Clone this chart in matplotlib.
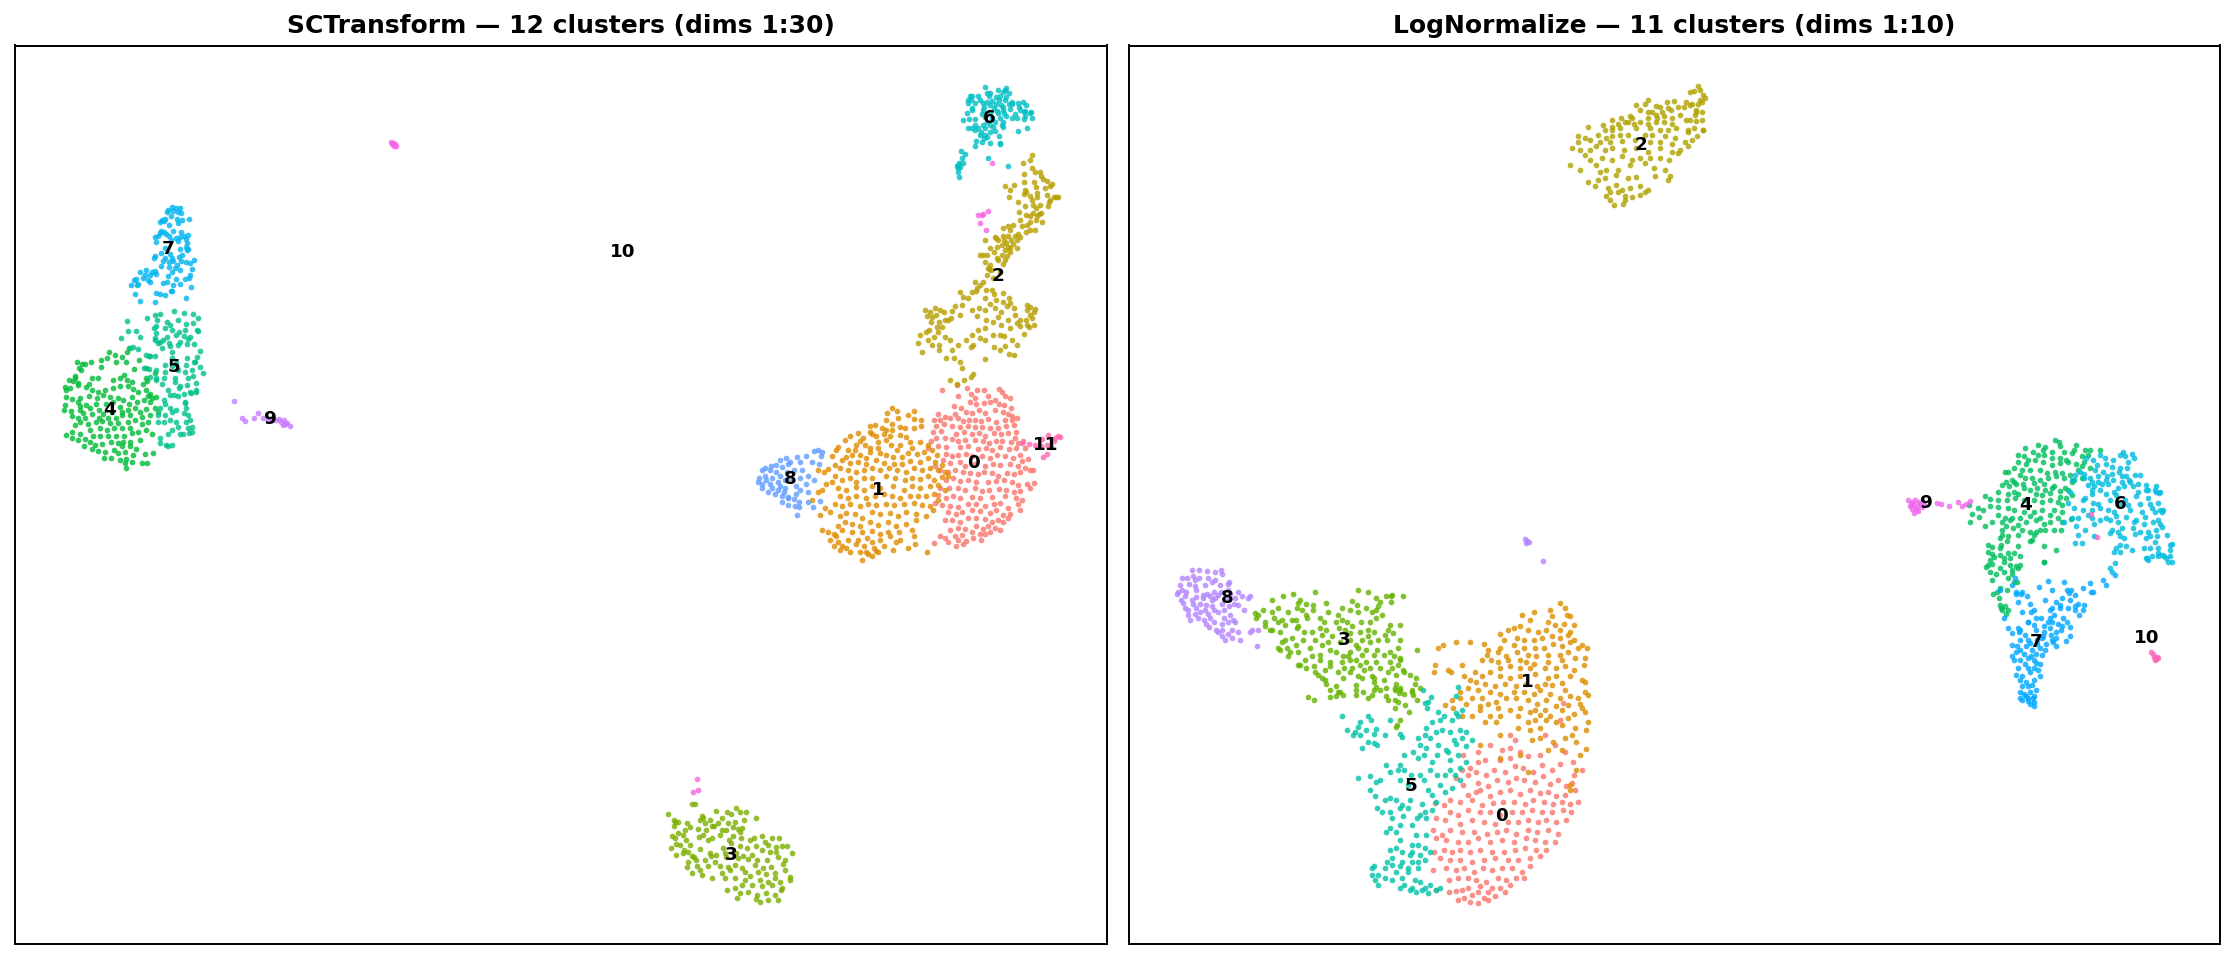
import matplotlib
matplotlib.use("Agg")
import matplotlib.pyplot as plt

# points, one list per cluster (x, y in picture units, y runs downwards)
sct_0 = [(957,385),(942,390),(977,390),(967,388),(984,390),(999,389),(1002,392),(1005,396),(958,396),(971,394),(975,398),(988,396),(995,400),(1010,398),(970,402),(976,404),(984,403),(990,402),(999,404),(1004,405),(1011,408),(954,406),(961,408),(955,414),(966,412),(972,413),(979,410),(985,413),(995,410),(1003,412),(1008,414),(1012,416),(938,414),(945,417),(934,420),(940,420),(950,418),(958,418),(963,421),(969,420),(975,420),(981,421),(988,419),(996,422),(1005,420),(1012,420),(1017,418),(936,426),(944,424),(952,426),(960,427),(968,426),(975,427),(982,427),(990,428),(998,428),(1006,426),(1014,425),(933,432),(941,431),(956,434),(964,432),(972,434),(979,433),(985,436),(994,433),(1001,434),(1008,433),(1016,432),(1015,438),(936,438),(945,438),(952,439),(958,441),(965,440),(975,440),(983,441),(989,443),(996,441),(1002,441),(1011,442),(1018,443),(1023,441),(931,441),(928,448),(938,446),(946,447),(960,447),(968,446),(978,449),(986,448),(992,450),(1000,447),(1009,449),(1016,448),(1025,448),(1020,455),(946,454),(952,456),(958,455),(966,454),(972,456),(982,456),(990,458),(997,455),(1005,456),(1013,458),(1022,461),(1028,459),(1033,470),(943,460),(950,463),(960,462),(965,466),(975,464),(985,466),(993,464),(1000,465),(1010,464),(1018,466),(1025,468),(935,466),(940,470),(948,472),(955,470),(963,472),(970,473),(978,474),(984,472),(992,473),(998,476),(1007,473),(1014,474),(1020,472),(1030,470),(946,480),(953,478),(960,481),(968,480),(976,482),(988,482),(996,481),(1004,480),(1012,482),(1018,485),(1027,484),(1034,483),(940,488),(949,488),(958,488),(965,490),(975,488),(982,491),(989,490),(999,489),(1006,490),(1014,492),(1020,491),(1030,488),(938,495),(946,498),(953,496),(960,498),(972,497),(980,498),(992,497),(1005,496),(1016,498),(1022,500),(935,503),(942,505),(950,506),(958,507),(968,504),(976,504),(985,506),(994,504),(1000,503),(1008,508),(1018,504),(948,512),(956,514),(962,512),(972,510),(980,511),(990,513),(996,510),(1003,515),(1010,514),(1020,510),(945,520),(952,520),(960,522),(968,518),(976,518),(985,519),(992,522),(998,520),(1008,518),(958,528),(965,529),(976,526),(983,529),(988,526),(995,528),(1003,522),(950,530),(945,538),(955,536),(962,535),(972,532),(980,534),(990,532),(1000,530),(934,543),(940,536),(948,542),(958,540),(966,541),(973,538),(981,540),(985,534),(956,546),(963,544)]
sct_1 = [(892,408),(897,411),(887,413),(898,418),(886,420),(892,424),(908,415),(914,411),(914,419),(921,420),(886,430),(892,430),(875,425),(882,428),(870,426),(900,427),(870,432),(876,436),(884,434),(890,436),(900,435),(905,428),(914,428),(921,426),(858,433),(863,438),(872,434),(878,442),(886,440),(900,445),(906,437),(910,442),(860,441),(865,445),(856,445),(850,436),(845,440),(838,447),(848,450),(855,450),(870,448),(878,448),(891,445),(897,450),(912,448),(920,442),(928,445),(846,457),(852,455),(860,455),(866,458),(870,452),(880,453),(886,455),(893,457),(902,457),(908,453),(917,454),(924,452),(932,450),(937,455),(836,450),(832,456),(842,460),(850,463),(858,462),(866,464),(876,460),(884,463),(894,464),(902,464),(910,461),(920,462),(928,458),(935,462),(942,465),(835,465),(840,468),(848,470),(856,472),(864,470),(872,468),(880,470),(889,468),(897,470),(906,472),(914,468),(922,470),(930,468),(938,470),(945,472),(828,469),(818,470),(824,472),(835,476),(842,480),(850,478),(856,482),(864,478),(872,478),(886,476),(895,478),(905,480),(912,478),(920,479),(928,476),(934,480),(942,477),(948,476),(832,482),(826,484),(838,488),(846,490),(856,487),(864,490),(872,486),(880,488),(893,486),(904,490),(912,486),(920,488),(930,486),(938,485),(822,490),(818,492),(812,500),(840,496),(848,498),(856,496),(866,498),(875,496),(884,494),(892,496),(900,498),(910,496),(918,496),(926,496),(934,494),(945,490),(825,508),(835,504),(842,506),(850,504),(860,506),(868,504),(876,505),(886,504),(894,505),(904,504),(914,503),(922,505),(930,506),(938,500),(820,515),(830,512),(840,516),(846,513),(855,514),(862,518),(872,512),(880,514),(890,513),(898,516),(906,512),(916,514),(926,516),(933,510),(845,522),(852,524),(860,526),(870,522),(878,525),(888,522),(896,526),(906,524),(916,520),(822,530),(828,532),(834,534),(838,526),(842,530),(852,532),(862,532),(872,531),(880,534),(888,532),(899,532),(912,530),(830,540),(836,536),(848,540),(858,540),(867,538),(872,542),(880,540),(890,536),(900,540),(834,546),(838,542),(842,546),(846,548),(856,544),(864,546),(874,548),(884,546),(896,542),(914,536),(840,550),(850,552),(860,552),(868,554),(878,552),(893,550),(908,548),(927,552),(915,544),(862,560),(872,556),(876,551),(866,552)]
sct_2 = [(1032,155),(1030,160),(1023,163),(1032,168),(1035,172),(1040,172),(1041,176),(1043,179),(1047,181),(1024,174),(1024,182),(1025,190),(1034,182),(1036,187),(1052,184),(1050,186),(1037,193),(1037,197),(1045,188),(1047,195),(1050,200),(1054,197),(1056,197),(1049,202),(1005,186),(1014,185),(1010,190),(1009,197),(1024,194),(1026,192),(1030,196),(1032,200),(1018,202),(1025,206),(1033,205),(1036,208),(1040,205),(1048,206),(1058,197),(1033,213),(1026,215),(1030,216),(1037,216),(1041,213),(1019,212),(1036,220),(1030,222),(1027,225),(1022,226),(1042,222),(1039,214),(1030,230),(1026,232),(1035,230),(1020,220),(1010,230),(1013,225),(1008,226),(1015,236),(1011,240),(1008,236),(1020,237),(1018,234),(1008,247),(1013,244),(1017,240),(1003,228),(1006,243),(996,238),(998,240),(1003,236),(1005,250),(1002,255),(1017,248),(1010,252),(995,237),(983,255),(990,248),(997,247),(1002,245),(1004,240),(980,255),(985,240),(1010,248),(1005,260),(1007,256),(1003,264),(997,258),(990,265),(998,260),(991,270),(1000,272),(994,252),(987,255),(985,262),(993,278),(987,275),(989,269),(975,282),(983,282),(992,290),(986,290),(988,268),(980,285),(977,288),(960,292),(976,291),(985,298),(994,294),(1003,293),(996,300),(1003,302),(1009,298),(1010,303),(1014,308),(1015,315),(1020,320),(1007,306),(1001,312),(998,317),(995,308),(990,304),(985,310),(979,308),(972,292),(968,298),(963,297),(962,305),(955,306),(952,311),(944,312),(951,318),(960,315),(972,310),(977,316),(986,320),(993,322),(1001,325),(1008,320),(1017,323),(1027,305),(1030,307),(1035,309),(1027,310),(1030,315),(1034,312),(1026,320),(1032,318),(1034,325),(1029,327),(1027,325),(935,308),(940,310),(945,320),(930,312),(936,315),(925,310),(927,316),(932,317),(939,322),(931,322),(937,327),(942,327),(948,320),(938,332),(929,330),(926,332),(934,337),(920,335),(918,343),(928,340),(932,345),(939,345),(945,337),(950,340),(958,345),(966,340),(971,347),(972,335),(978,330),(985,328),(993,335),(1004,336),(1010,328),(1020,326),(1024,334),(1012,340),(1017,345),(1000,335),(980,338),(973,345),(985,340),(1005,346),(994,347),(1000,350),(1014,355),(1009,354),(952,350),(939,350),(922,352),(946,358),(954,358),(960,362),(962,368),(985,359),(964,380),(971,377),(973,374),(950,380),(957,384)]
sct_3 = [(692,804),(695,804),(668,814),(702,816),(716,811),(727,812),(736,808),(731,814),(740,812),(746,812),(674,820),(678,822),(700,820),(703,818),(710,820),(718,823),(722,818),(728,823),(756,818),(675,822),(687,823),(685,830),(705,823),(714,826),(722,830),(735,822),(738,829),(742,828),(678,833),(674,826),(690,827),(683,835),(698,829),(706,830),(712,826),(726,830),(733,827),(744,820),(672,836),(675,838),(686,840),(690,845),(699,837),(703,835),(712,838),(720,835),(733,836),(740,832),(680,845),(676,844),(684,850),(688,852),(708,840),(729,840),(731,843),(741,838),(750,840),(754,838),(762,836),(765,842),(772,838),(779,838),(676,855),(671,848),(683,853),(692,856),(700,849),(710,853),(723,848),(740,846),(747,848),(756,846),(768,845),(776,847),(782,846),(787,846),(694,857),(696,860),(711,856),(716,855),(725,853),(736,853),(743,856),(752,855),(762,850),(770,852),(776,852),(792,853),(688,862),(687,867),(697,866),(705,860),(715,862),(726,857),(738,858),(748,859),(757,860),(767,860),(778,857),(785,860),(700,870),(708,866),(720,866),(728,867),(735,865),(742,868),(755,865),(763,868),(771,867),(783,864),(692,873),(702,875),(712,878),(722,873),(730,870),(745,872),(750,876),(758,872),(766,874),(775,873),(785,870),(790,877),(725,878),(735,878),(745,880),(760,880),(768,882),(775,878),(780,882),(735,888),(727,890),(742,885),(752,885),(762,886),(772,885),(782,888),(790,880),(740,893),(748,892),(757,895),(766,893),(775,895),(778,900),(756,899),(760,902),(768,900),(737,898),(781,890)]
sct_4 = [(77,362),(82,364),(85,364),(91,362),(101,360),(107,358),(109,352),(115,355),(122,357),(127,352),(129,348),(79,368),(81,370),(75,376),(101,367),(116,362),(126,362),(139,360),(146,368),(134,369),(69,380),(73,381),(75,378),(78,383),(89,384),(92,378),(98,378),(113,380),(120,378),(124,375),(127,380),(132,382),(146,378),(155,373),(143,384),(147,381),(65,387),(66,390),(70,388),(78,385),(86,387),(92,390),(98,392),(105,390),(113,388),(120,386),(128,386),(133,389),(146,390),(150,394),(66,397),(72,399),(80,398),(89,396),(97,398),(103,395),(110,397),(118,398),(123,400),(132,397),(138,392),(148,396),(152,398),(65,405),(78,402),(80,406),(86,405),(96,404),(106,404),(113,402),(120,407),(129,404),(137,402),(144,400),(150,402),(156,397),(64,410),(71,411),(80,410),(83,413),(90,408),(99,410),(103,414),(112,412),(122,412),(128,410),(135,408),(140,412),(146,409),(155,408),(72,416),(78,418),(85,418),(92,414),(99,418),(108,418),(116,418),(122,415),(130,415),(142,417),(150,415),(158,412),(75,425),(80,422),(88,424),(96,422),(102,421),(110,423),(118,423),(128,422),(135,420),(142,424),(148,422),(66,435),(72,432),(80,434),(90,430),(100,428),(107,430),(114,428),(122,428),(130,428),(138,432),(146,430),(152,434),(72,438),(78,440),(85,439),(93,436),(100,436),(108,436),(116,436),(124,436),(132,433),(84,446),(90,442),(95,445),(102,444),(111,442),(118,443),(123,442),(130,442),(140,440),(92,449),(98,451),(105,452),(114,450),(122,446),(130,446),(136,449),(104,458),(111,458),(118,453),(125,452),(133,455),(145,454),(153,453),(120,460),(125,463),(132,462),(126,468),(142,463),(147,463),(126,459)]
sct_5 = [(127,321),(128,331),(121,338),(136,331),(140,337),(130,348),(147,318),(155,315),(160,314),(174,311),(184,313),(193,314),(198,318),(156,326),(157,320),(167,322),(170,325),(178,320),(186,324),(193,323),(197,330),(154,328),(156,333),(165,328),(172,330),(179,332),(185,330),(190,337),(198,331),(155,338),(163,340),(167,337),(176,335),(184,336),(188,339),(155,340),(160,342),(169,343),(178,345),(187,344),(194,344),(133,347),(138,349),(146,355),(150,356),(158,343),(162,348),(170,346),(180,342),(200,351),(149,356),(155,356),(172,352),(172,358),(187,358),(197,357),(194,362),(165,365),(172,366),(176,363),(186,365),(195,362),(144,368),(149,369),(156,370),(165,372),(178,370),(185,372),(192,370),(200,367),(203,373),(150,377),(156,378),(156,380),(164,378),(175,378),(188,378),(193,376),(196,383),(162,384),(168,390),(175,382),(180,386),(187,385),(190,392),(196,392),(170,395),(179,388),(184,394),(164,400),(174,395),(178,396),(185,402),(196,390),(160,408),(165,404),(170,408),(176,410),(185,403),(186,408),(191,393),(184,413),(158,415),(165,415),(172,412),(188,415),(190,420),(164,422),(170,420),(176,422),(178,427),(186,422),(188,428),(192,427),(158,422),(168,434),(172,430),(180,434),(183,434),(189,433),(160,438),(166,445),(168,446),(172,445),(160,443),(192,432)]
sct_6 = [(985,87),(1006,88),(1005,90),(998,90),(1003,92),(1009,93),(987,93),(990,93),(970,96),(972,96),(978,96),(989,96),(996,97),(1000,96),(1006,97),(968,100),(971,100),(980,100),(987,102),(992,101),(999,100),(1005,100),(1012,102),(968,103),(975,103),(983,103),(990,105),(996,104),(1001,105),(1009,104),(1018,103),(1023,102),(972,108),(984,107),(994,108),(1003,107),(1012,104),(1019,107),(1026,105),(972,110),(983,110),(997,111),(1003,110),(1010,109),(1020,110),(1025,111),(1031,112),(967,113),(982,114),(990,112),(998,113),(1004,113),(1015,114),(1024,112),(1030,113),(963,120),(969,119),(975,119),(985,117),(992,118),(1000,118),(1006,116),(1012,118),(1017,118),(1025,116),(1024,119),(1032,118),(987,122),(995,122),(1003,122),(975,125),(983,125),(990,125),(1002,125),(968,128),(972,128),(978,128),(985,128),(993,127),(995,131),(1003,127),(975,130),(981,132),(985,135),(990,132),(1018,131),(1027,128),(980,135),(984,138),(987,137),(999,136),(1000,143),(976,141),(975,146),(982,142),(990,143),(1000,144),(961,151),(965,154),(962,158),(959,163),(958,165),(960,167),(957,166),(958,168),(963,163),(958,172),(959,177),(988,158),(1008,166)]
sct_7 = [(172,207),(176,208),(180,208),(168,210),(173,211),(178,212),(181,213),(167,212),(171,216),(162,220),(164,221),(160,222),(165,219),(177,219),(182,220),(189,219),(178,223),(169,225),(161,231),(164,232),(160,233),(166,234),(173,231),(181,232),(184,236),(188,235),(155,237),(158,236),(169,236),(176,238),(180,237),(186,239),(156,242),(171,240),(178,241),(187,243),(186,247),(188,249),(180,249),(165,248),(161,253),(155,256),(154,258),(170,254),(182,255),(187,250),(165,258),(172,258),(179,257),(181,261),(163,261),(169,262),(173,261),(186,262),(194,260),(190,263),(192,269),(177,265),(169,267),(146,270),(140,272),(152,272),(155,271),(145,275),(143,278),(150,275),(156,274),(161,266),(175,268),(180,270),(172,272),(168,276),(134,280),(136,279),(148,280),(150,282),(176,279),(189,278),(190,275),(185,279),(163,283),(131,285),(138,284),(137,285),(173,285),(167,282),(180,284),(191,287),(135,294),(156,293),(160,294),(165,295),(172,291),(186,298),(140,301),(155,302),(171,291)]
sct_8 = [(762,470),(765,468),(771,466),(776,465),(780,460),(786,458),(790,462),(797,457),(806,456),(814,451),(818,450),(822,452),(821,456),(765,476),(770,470),(776,472),(782,467),(788,464),(800,462),(812,462),(819,464),(759,478),(766,480),(772,478),(780,476),(787,472),(794,470),(802,470),(758,482),(762,484),(770,484),(778,482),(785,480),(790,478),(800,478),(808,476),(814,480),(762,488),(772,488),(780,486),(785,488),(796,486),(806,484),(768,492),(778,490),(784,492),(800,490),(808,492),(775,494),(782,496),(788,498),(796,494),(782,502),(788,497),(794,499),(799,502),(808,502),(820,501),(788,505),(795,506),(799,507),(813,507),(797,515)]
sct_9 = [(234,401),(242,418),(245,421),(254,418),(258,413),(263,418),(268,419),(272,420),(276,420),(279,419),(281,422),(284,420),(285,424),(287,423),(290,426),(283,425)]
sct_10 = [(391,142),(393,143),(395,144),(392,144),(394,146),(396,146),(992,163),(982,215),(988,211),(978,215),(983,214),(980,223),(986,230),(697,779),(693,792),(698,790)]
sct_11 = [(1022,443),(1029,444),(1035,445),(1041,446),(1048,435),(1055,438),(1058,436),(1054,441),(1047,445),(1042,439),(1043,457),(1047,454),(1060,437),(1051,447)]

log_0 = [(1563,703),(1560,720),(1545,735),(1510,735),(1490,745),(1502,750),(1510,748),(1515,740),(1520,752),(1478,752),(1485,760),(1463,755),(1470,768),(1478,762),(1500,760),(1510,758),(1528,756),(1540,755),(1555,745),(1565,752),(1573,762),(1462,770),(1468,775),(1476,772),(1486,775),(1494,770),(1505,772),(1515,766),(1523,768),(1533,772),(1542,765),(1552,770),(1560,764),(1574,775),(1582,770),(1456,778),(1463,785),(1478,783),(1488,786),(1497,780),(1508,782),(1516,778),(1524,780),(1535,782),(1543,776),(1550,784),(1558,780),(1566,786),(1572,783),(1468,795),(1476,792),(1480,790),(1490,796),(1500,792),(1510,790),(1520,794),(1530,790),(1540,793),(1548,792),(1556,796),(1565,795),(1575,790),(1450,800),(1460,802),(1472,800),(1482,805),(1493,803),(1503,802),(1514,802),(1525,804),(1533,800),(1544,802),(1553,804),(1562,802),(1570,804),(1578,802),(1444,805),(1435,803),(1450,812),(1458,815),(1468,810),(1480,812),(1490,812),(1500,815),(1512,812),(1522,812),(1532,810),(1542,812),(1552,812),(1563,810),(1571,812),(1436,818),(1445,820),(1460,824),(1472,820),(1484,822),(1495,824),(1508,822),(1518,822),(1528,820),(1538,822),(1546,820),(1556,822),(1566,820),(1433,830),(1442,835),(1450,830),(1462,832),(1474,832),(1487,834),(1497,832),(1506,830),(1516,834),(1528,830),(1537,832),(1548,830),(1558,834),(1436,838),(1446,840),(1458,842),(1468,842),(1478,838),(1490,842),(1502,840),(1514,842),(1526,838),(1535,840),(1545,842),(1555,842),(1434,852),(1444,850),(1452,852),(1460,850),(1470,852),(1480,850),(1492,852),(1504,852),(1515,850),(1525,848),(1536,850),(1546,850),(1440,858),(1450,860),(1460,860),(1472,862),(1484,860),(1495,858),(1508,860),(1518,860),(1530,858),(1540,856),(1433,870),(1446,868),(1456,870),(1464,868),(1474,872),(1483,868),(1492,870),(1502,868),(1512,868),(1522,872),(1530,866),(1449,880),(1458,878),(1468,878),(1476,880),(1486,882),(1498,878),(1506,880),(1516,878),(1524,878),(1436,890),(1449,892),(1462,890),(1468,888),(1480,886),(1492,888),(1500,888),(1510,885),(1458,900),(1472,895),(1478,892),(1488,892),(1495,896),(1505,892),(1456,891),(1470,902),(1464,898),(1488,900),(1478,903),(1484,898)]
log_1 = [(1560,603),(1565,608),(1567,615),(1550,610),(1552,616),(1570,616),(1534,612),(1522,615),(1530,620),(1548,622),(1555,625),(1564,624),(1574,625),(1514,628),(1508,630),(1520,626),(1528,630),(1538,632),(1546,630),(1560,630),(1570,632),(1500,634),(1504,640),(1517,638),(1524,640),(1534,640),(1542,638),(1552,636),(1560,638),(1568,635),(1574,640),(1443,645),(1456,642),(1470,642),(1484,644),(1500,648),(1514,645),(1524,648),(1535,648),(1544,648),(1553,644),(1562,646),(1570,642),(1582,645),(1438,648),(1488,650),(1487,655),(1498,652),(1506,656),(1517,652),(1528,655),(1536,656),(1548,655),(1560,655),(1568,652),(1578,648),(1587,648),(1482,660),(1491,660),(1498,662),(1508,660),(1520,660),(1526,662),(1534,664),(1548,662),(1562,660),(1575,658),(1585,658),(1435,665),(1448,670),(1451,672),(1462,665),(1500,668),(1510,666),(1520,668),(1530,668),(1545,668),(1556,668),(1565,666),(1574,670),(1584,665),(1434,672),(1464,676),(1475,672),(1482,676),(1490,672),(1500,676),(1510,678),(1520,676),(1535,674),(1548,678),(1556,676),(1570,676),(1582,680),(1470,680),(1476,682),(1485,684),(1495,686),(1505,684),(1516,686),(1526,684),(1537,686),(1545,684),(1552,685),(1562,683),(1585,682),(1460,692),(1468,688),(1478,690),(1490,692),(1500,694),(1514,692),(1524,692),(1534,694),(1540,690),(1550,694),(1565,690),(1585,692),(1588,695),(1452,700),(1460,698),(1472,698),(1482,698),(1496,702),(1506,698),(1516,698),(1528,700),(1537,704),(1546,700),(1560,698),(1570,696),(1578,698),(1445,705),(1453,708),(1466,704),(1480,706),(1488,704),(1498,708),(1510,710),(1520,708),(1535,710),(1545,710),(1556,706),(1568,705),(1580,704),(1462,716),(1472,716),(1480,710),(1490,716),(1500,716),(1518,716),(1530,712),(1540,715),(1550,716),(1562,710),(1574,714),(1582,708),(1485,722),(1496,722),(1528,722),(1535,720),(1546,720),(1556,722),(1568,718),(1585,712),(1518,728),(1530,730),(1540,728),(1562,725),(1575,728),(1588,722),(1500,735),(1540,738),(1553,742),(1565,738),(1572,735),(1586,730),(1532,740),(1480,745),(1500,758),(1548,750),(1562,750),(1576,742),(1580,755),(1586,749),(1576,770),(1570,785),(1570,790),(1520,755),(1528,772)]
log_2 = [(1698,86),(1700,90),(1690,92),(1694,91),(1703,95),(1705,98),(1700,100),(1702,102),(1698,104),(1686,102),(1692,104),(1645,104),(1648,100),(1636,105),(1667,102),(1674,101),(1684,107),(1690,105),(1656,106),(1652,112),(1660,107),(1668,108),(1678,107),(1696,110),(1702,112),(1696,112),(1648,112),(1640,110),(1656,115),(1662,112),(1671,110),(1695,115),(1630,116),(1648,118),(1657,118),(1664,116),(1672,118),(1680,115),(1686,120),(1702,120),(1621,118),(1612,120),(1625,122),(1632,118),(1612,127),(1618,124),(1628,122),(1634,124),(1640,122),(1648,124),(1656,122),(1664,122),(1672,124),(1690,120),(1696,121),(1588,127),(1603,125),(1605,130),(1612,130),(1620,128),(1636,128),(1650,128),(1660,130),(1668,130),(1676,128),(1688,130),(1694,128),(1703,130),(1578,136),(1585,138),(1598,135),(1606,138),(1612,136),(1620,135),(1628,135),(1645,135),(1652,135),(1665,136),(1675,138),(1688,132),(1697,136),(1703,130),(1572,148),(1578,142),(1590,140),(1600,142),(1610,142),(1622,141),(1635,140),(1650,142),(1660,142),(1672,144),(1685,142),(1692,140),(1580,150),(1585,155),(1590,150),(1596,146),(1605,150),(1612,148),(1624,150),(1636,148),(1648,152),(1660,148),(1672,152),(1680,150),(1688,146),(1570,165),(1590,160),(1596,165),(1602,158),(1612,160),(1622,156),(1632,160),(1640,158),(1650,158),(1660,158),(1669,160),(1678,153),(1580,170),(1600,172),(1606,170),(1618,170),(1630,165),(1645,163),(1654,168),(1665,170),(1670,176),(1588,182),(1598,180),(1605,178),(1616,175),(1628,178),(1636,177),(1655,176),(1668,180),(1595,186),(1608,188),(1616,185),(1622,190),(1630,188),(1640,186),(1648,190),(1606,196),(1610,192),(1618,192),(1625,196),(1632,197),(1640,195),(1645,192),(1610,200),(1625,200),(1614,205),(1623,204)]
log_3 = [(1255,613),(1263,610),(1272,600),(1283,596),(1293,594),(1300,600),(1315,592),(1298,603),(1306,604),(1313,605),(1326,603),(1342,608),(1352,601),(1357,605),(1368,592),(1358,590),(1376,598),(1380,602),(1386,596),(1378,606),(1392,595),(1391,602),(1391,596),(1403,596),(1258,615),(1272,612),(1278,608),(1288,612),(1297,608),(1302,610),(1306,615),(1313,610),(1328,612),(1338,615),(1342,620),(1350,610),(1358,612),(1366,608),(1372,612),(1376,610),(1382,615),(1256,618),(1265,622),(1274,618),(1282,620),(1292,620),(1296,620),(1307,618),(1320,618),(1336,622),(1347,622),(1352,626),(1361,622),(1370,622),(1376,618),(1265,626),(1272,630),(1278,622),(1285,625),(1298,626),(1320,628),(1324,622),(1339,628),(1345,630),(1350,633),(1360,632),(1368,630),(1390,625),(1388,630),(1400,625),(1270,630),(1280,632),(1297,628),(1304,632),(1312,632),(1326,630),(1332,636),(1350,640),(1362,640),(1368,636),(1374,632),(1385,635),(1393,633),(1282,642),(1285,640),(1292,638),(1296,645),(1303,640),(1315,640),(1322,635),(1328,642),(1340,642),(1356,645),(1370,642),(1378,640),(1387,640),(1400,640),(1280,650),(1287,648),(1310,648),(1322,645),(1330,650),(1336,652),(1350,652),(1358,648),(1366,650),(1377,650),(1390,652),(1398,648),(1278,648),(1290,652),(1298,652),(1320,655),(1343,656),(1350,660),(1362,655),(1374,655),(1384,655),(1394,656),(1400,660),(1417,650),(1288,656),(1305,660),(1312,656),(1320,660),(1342,662),(1348,656),(1356,660),(1366,662),(1376,662),(1390,662),(1398,665),(1300,665),(1306,668),(1314,666),(1330,662),(1344,668),(1352,668),(1360,665),(1370,668),(1380,668),(1392,668),(1400,658),(1298,665),(1315,672),(1325,670),(1330,666),(1350,672),(1358,676),(1364,670),(1372,676),(1388,672),(1396,675),(1403,670),(1318,675),(1338,672),(1343,678),(1362,678),(1374,678),(1384,680),(1396,684),(1404,672),(1410,675),(1416,678),(1325,680),(1322,678),(1326,684),(1380,690),(1374,682),(1386,688),(1395,688),(1415,684),(1400,690),(1336,686),(1338,692),(1356,685),(1356,690),(1374,690),(1388,700),(1400,688),(1412,692),(1420,688),(1330,690),(1356,695),(1363,692),(1386,696),(1395,690),(1404,694),(1412,690),(1314,700),(1336,696),(1340,692),(1372,695),(1376,687),(1399,693),(1400,720),(1395,700),(1413,695),(1308,697),(1330,697),(1343,695),(1368,698),(1395,708),(1405,705),(1398,702),(1409,712),(1417,700),(1397,725),(1396,727)]
log_4 = [(2055,440),(2059,442),(2076,445),(2038,445),(2045,447),(2060,446),(2074,450),(2100,450),(2025,448),(2033,452),(2043,450),(2052,452),(2064,452),(2072,453),(2085,450),(2090,450),(2018,455),(2024,456),(2028,460),(2038,455),(2044,455),(2052,458),(2060,458),(2066,460),(2082,456),(2088,455),(2018,462),(2026,464),(2035,460),(2043,462),(2052,465),(2060,463),(2068,462),(2076,464),(2082,466),(2084,462),(2014,468),(2008,472),(2022,470),(2030,470),(2040,470),(2047,473),(2055,472),(2062,473),(2070,475),(2078,470),(2090,468),(2005,472),(2012,480),(2020,475),(2025,478),(2032,478),(2040,480),(2048,478),(2056,476),(2064,478),(2074,480),(2082,478),(2006,482),(2014,482),(2023,484),(2034,483),(2044,484),(2054,486),(2065,488),(2072,482),(2002,485),(2009,486),(2016,484),(2030,490),(2037,488),(2045,490),(2052,488),(2060,491),(2068,490),(1998,492),(2008,494),(2014,492),(2018,494),(2024,488),(2036,494),(2042,495),(2050,493),(2060,497),(2066,498),(2072,495),(1985,496),(1990,499),(1998,500),(2007,500),(2015,498),(2024,500),(2034,500),(2042,502),(2050,500),(2058,502),(2062,505),(1969,505),(1978,508),(1983,510),(1990,506),(1998,507),(2008,508),(2014,510),(2024,512),(2034,512),(2042,510),(2054,510),(2062,512),(1972,514),(1979,517),(1998,515),(2005,518),(2012,518),(2020,518),(2030,516),(2040,518),(2050,515),(2058,518),(2071,519),(1970,522),(1992,522),(2002,522),(2010,520),(2018,525),(2026,522),(2036,520),(2044,524),(2050,522),(2062,522),(1985,526),(2002,530),(2006,526),(2013,528),(2022,530),(2030,532),(2040,530),(2054,530),(2061,530),(2000,538),(2002,535),(2008,536),(2018,535),(2034,535),(2036,532),(2045,530),(2032,540),(2001,545),(2007,541),(2000,548),(1988,545),(1992,547),(2018,546),(2030,541),(2044,546),(2056,550),(1988,552),(1992,554),(2000,555),(2008,553),(2014,553),(1994,557),(1990,560),(2010,558),(2020,556),(2004,558),(1988,565),(1992,564),(2004,562),(2010,565),(2020,565),(1986,567),(2000,568),(2012,570),(2016,566),(2044,562),(1990,572),(1996,574),(2004,572),(2012,574),(2018,568),(1992,580),(2008,578),(2000,588),(2014,582),(2017,582),(2044,562),(1993,594),(1997,592),(2007,590),(1999,598),(2000,605),(2001,608),(2005,606),(2002,610),(2008,610),(2006,614)]
log_5 = [(1342,716),(1360,722),(1371,720),(1368,716),(1347,730),(1355,732),(1353,735),(1358,727),(1366,730),(1374,734),(1390,720),(1376,729),(1374,743),(1360,735),(1385,735),(1400,734),(1402,737),(1428,702),(1423,690),(1458,687),(1456,696),(1462,710),(1431,697),(1425,703),(1427,708),(1438,712),(1444,716),(1456,713),(1458,716),(1452,720),(1440,720),(1432,722),(1426,728),(1425,735),(1418,738),(1430,738),(1436,732),(1442,730),(1450,732),(1460,730),(1466,732),(1454,740),(1462,738),(1472,740),(1377,745),(1362,748),(1368,742),(1420,745),(1426,748),(1438,745),(1446,750),(1456,744),(1466,746),(1400,765),(1404,755),(1413,752),(1418,758),(1424,755),(1432,762),(1437,755),(1448,752),(1450,760),(1458,755),(1466,762),(1386,765),(1390,772),(1398,770),(1404,770),(1411,775),(1420,775),(1430,770),(1437,775),(1445,775),(1450,770),(1455,775),(1460,768),(1358,778),(1370,776),(1376,782),(1380,780),(1400,780),(1408,785),(1424,780),(1428,790),(1440,785),(1452,788),(1460,780),(1370,790),(1375,796),(1390,798),(1396,800),(1402,805),(1410,800),(1422,804),(1432,795),(1436,802),(1445,792),(1377,808),(1385,800),(1400,808),(1390,812),(1408,808),(1420,815),(1425,812),(1432,810),(1382,812),(1392,818),(1403,816),(1417,818),(1426,818),(1400,825),(1390,828),(1386,832),(1396,832),(1412,825),(1416,835),(1426,835),(1400,840),(1412,845),(1418,845),(1425,848),(1396,848),(1390,850),(1402,852),(1412,852),(1420,855),(1425,860),(1387,862),(1392,858),(1402,862),(1410,855),(1418,862),(1430,852),(1372,868),(1374,866),(1378,875),(1385,868),(1392,865),(1400,866),(1408,868),(1412,862),(1418,868),(1372,875),(1375,880),(1378,885),(1385,878),(1392,880),(1396,872),(1402,878),(1408,872),(1400,888),(1404,885),(1412,888),(1415,880),(1422,890),(1410,890),(1420,882),(1428,893),(1436,890),(1430,885),(1425,888),(1416,892),(1440,888)]
log_6 = [(2120,455),(2123,452),(2125,456),(2132,454),(2086,458),(2093,460),(2100,455),(2105,458),(2113,460),(2128,462),(2097,465),(2106,464),(2112,467),(2120,468),(2127,468),(2134,458),(2095,470),(2103,472),(2112,474),(2119,472),(2126,476),(2135,475),(2080,472),(2084,474),(2075,475),(2090,478),(2098,476),(2107,476),(2122,476),(2129,480),(2140,475),(2072,480),(2084,478),(2092,482),(2098,482),(2106,480),(2113,480),(2122,482),(2130,482),(2138,484),(2146,485),(2088,485),(2094,486),(2102,484),(2108,484),(2118,488),(2124,486),(2133,486),(2148,490),(2156,486),(2155,490),(2159,493),(2070,492),(2092,490),(2100,490),(2114,492),(2138,492),(2146,490),(2160,492),(2083,500),(2092,494),(2106,494),(2116,495),(2125,500),(2136,496),(2148,498),(2156,492),(2150,504),(2158,503),(2085,498),(2093,503),(2098,504),(2110,500),(2119,504),(2128,505),(2140,504),(2152,508),(2160,510),(2163,510),(2083,510),(2074,508),(2068,503),(2092,510),(2100,508),(2108,510),(2114,512),(2130,510),(2142,512),(2155,512),(2162,512),(2072,518),(2088,515),(2092,518),(2106,518),(2116,516),(2126,517),(2136,520),(2145,517),(2158,520),(2064,522),(2078,518),(2100,520),(2110,520),(2118,522),(2134,522),(2144,524),(2153,522),(2160,524),(2076,526),(2085,530),(2094,524),(2112,530),(2122,528),(2133,528),(2148,532),(2156,530),(2162,527),(2110,533),(2118,532),(2135,534),(2140,532),(2150,536),(2157,536),(2167,535),(2078,535),(2094,536),(2120,536),(2124,538),(2146,538),(2155,542),(2170,545),(2172,544),(2075,543),(2082,543),(2116,548),(2120,545),(2126,546),(2150,548),(2158,548),(2170,550),(2114,552),(2120,552),(2132,550),(2144,548),(2158,553),(2170,556),(2164,556),(2147,558),(2152,556),(2158,556),(2166,558),(2148,560),(2146,558),(2172,562),(2168,562),(2162,555),(2115,563),(2110,568),(2112,572)]
log_7 = [(2015,578),(2012,585),(2000,590),(2048,581),(2064,582),(2039,587),(2103,580),(2090,583),(2106,585),(2016,592),(2022,592),(2052,590),(2067,590),(2071,590),(2115,575),(2016,594),(2021,594),(2027,596),(2083,588),(2091,592),(2093,592),(2060,605),(2069,593),(2075,595),(2062,598),(2018,602),(2030,604),(2045,600),(2056,602),(2070,600),(2078,604),(2084,605),(2075,606),(2060,608),(2052,608),(2034,610),(2022,612),(2031,612),(2050,610),(2068,608),(2075,610),(2083,610),(2004,618),(2041,618),(2028,622),(2036,618),(2050,618),(2054,615),(2063,618),(2079,615),(2028,622),(2048,622),(2052,622),(2058,624),(2067,622),(2034,625),(2044,626),(2050,628),(2062,626),(2070,627),(2008,628),(2018,628),(2019,632),(2036,630),(2044,632),(2051,635),(2056,632),(2061,630),(2020,630),(2012,633),(2025,635),(2043,636),(2052,640),(2056,638),(2028,640),(2020,640),(2030,643),(2037,640),(2042,638),(2053,642),(2066,641),(2070,636),(2012,645),(2017,646),(2026,646),(2037,644),(2046,644),(2056,646),(2020,650),(2032,650),(2040,648),(2045,650),(2012,656),(2016,652),(2024,654),(2031,656),(2036,654),(2042,655),(2014,660),(2020,660),(2028,658),(2034,660),(2036,663),(2018,668),(2025,664),(2028,668),(2034,668),(2040,664),(2016,675),(2022,676),(2030,672),(2038,670),(2020,680),(2026,682),(2034,680),(2040,676),(2022,686),(2028,686),(2032,685),(2036,690),(2020,692),(2030,692),(2034,696),(2020,698),(2024,694),(2028,698),(2033,698),(2034,702),(2022,700),(2030,704),(2034,706),(2028,701),(2026,696)]
log_8 = [(1192,570),(1193,576),(1199,570),(1207,571),(1215,572),(1221,570),(1187,578),(1195,580),(1199,578),(1208,578),(1215,580),(1222,574),(1182,578),(1180,585),(1189,584),(1195,586),(1205,585),(1212,582),(1220,585),(1228,584),(1229,582),(1178,592),(1182,590),(1186,592),(1196,590),(1207,594),(1214,592),(1221,592),(1228,590),(1238,592),(1177,594),(1185,596),(1196,597),(1203,595),(1210,596),(1218,595),(1230,594),(1242,596),(1248,598),(1181,600),(1192,600),(1203,598),(1212,600),(1215,598),(1228,598),(1235,598),(1250,596),(1183,603),(1193,604),(1200,604),(1206,605),(1212,606),(1222,604),(1238,605),(1185,608),(1188,610),(1196,608),(1205,610),(1214,610),(1224,610),(1229,606),(1234,604),(1188,615),(1195,614),(1200,612),(1208,614),(1218,612),(1230,615),(1244,610),(1190,620),(1198,618),(1204,620),(1210,618),(1224,618),(1233,620),(1206,624),(1214,622),(1222,624),(1228,622),(1235,622),(1209,627),(1216,630),(1222,630),(1232,630),(1218,632),(1228,634),(1238,632),(1222,636),(1232,638),(1240,640),(1225,640),(1250,632),(1252,630),(1258,630),(1257,646),(1525,539),(1527,541),(1526,543),(1529,542),(1543,561)]
log_9 = [(1908,500),(1912,502),(1915,500),(1919,502),(1910,506),(1914,505),(1917,507),(1920,504),(1924,505),(1912,509),(1916,510),(1914,513),(1918,511),(1937,503),(1941,504),(1949,506),(1958,502),(1962,506),(1966,504),(1970,501),(1911,504),(1922,507)]
log_10 = [(2151,652),(2153,654),(2154,657),(2156,659),(2157,657),(2155,660),(2158,658),(2091,514),(2097,537)]

sct_clusters = [sct_0, sct_1, sct_2, sct_3, sct_4, sct_5, sct_6, sct_7, sct_8, sct_9, sct_10, sct_11]
log_clusters = [log_0, log_1, log_2, log_3, log_4, log_5, log_6, log_7, log_8, log_9, log_10]

# ggplot hue palettes
sct_colors = ['#F8766D', '#DE8C00', '#B79F00', '#7CAE00', '#00BA38', '#00C08B',
              '#00BFC4', '#00B4F0', '#619CFF', '#C77CFF', '#F564E3', '#FF64B0']
log_colors = ['#F8766D', '#DB8E00', '#AEA200', '#64B200', '#00BD5C', '#00C1A7',
              '#00BADE', '#00A6FF', '#B385FF', '#EF67EB', '#FF63B6']

# where the cluster numbers sit
sct_label_x = [974, 878, 998, 731, 110, 174, 989, 168, 790, 270, 623, 1046]
sct_label_y = [463, 490, 276, 855, 410, 367, 118, 249, 479, 419, 252, 445]
log_label_x = [1501, 1527, 1641, 1344, 2026, 1411, 2120, 2036, 1227, 1926, 2147]
log_label_y = [816, 682, 145, 640, 505, 786, 504, 642, 598, 503, 638]


def plot_umap(ax, clusters, colors, label_x, label_y, title):
    for pts, color in zip(clusters, colors):
        xs, ys = zip(*pts)
        ax.scatter(xs, ys, s=4.2, color=color, alpha=0.8, linewidths=0)

    for i in range(len(clusters)):
        ax.text(label_x[i], label_y[i], str(i), fontsize=6.6, fontweight='bold',
                ha='center', va='center', color='black')

    ax.set_title(title, fontsize=9, fontweight='bold', pad=4.6)
    ax.set_xticks([])
    ax.set_yticks([])
    for spine in ax.spines.values():
        spine.set_linewidth(0.7)


fig = plt.figure(figsize=(11.175, 4.795), dpi=200)
W, H = 2235.0, 959.0

ax1 = fig.add_axes([15.5 / W, 1 - 944 / H, 1091 / W, 898.5 / H])
plot_umap(ax1, sct_clusters, sct_colors, sct_label_x, sct_label_y,
          "SCTransform — 12 clusters (dims 1:30)")
ax1.set_xlim(15.5, 1106.5)
ax1.set_ylim(944, 45.5)

ax2 = fig.add_axes([1129 / W, 1 - 944 / H, 1091 / W, 898.5 / H])
plot_umap(ax2, log_clusters, log_colors, log_label_x, log_label_y,
          "LogNormalize — 11 clusters (dims 1:10)")
ax2.set_xlim(1129, 2220)
ax2.set_ylim(944, 45.5)

fig.savefig("out.png", dpi=200)
plt.close(fig)
